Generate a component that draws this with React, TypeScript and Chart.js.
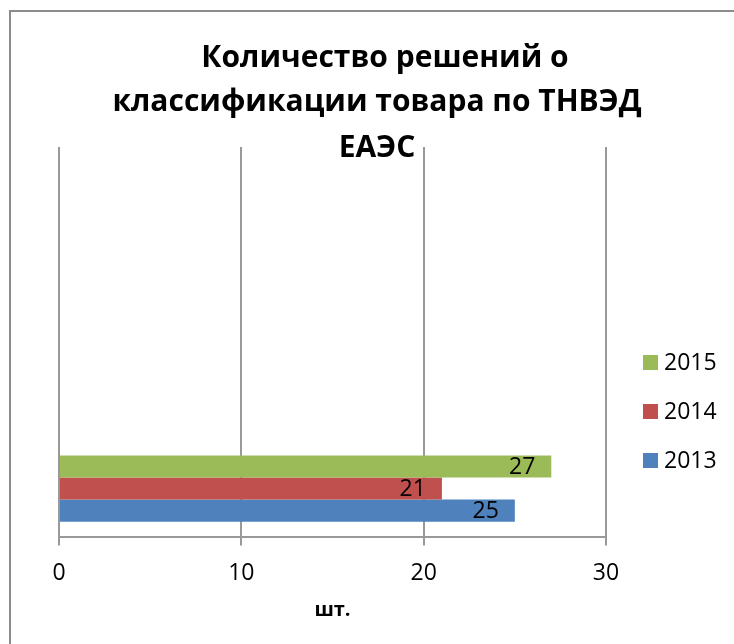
import React, { useEffect, useRef } from "react";
import { Chart, registerables } from "chart.js";

Chart.register(...registerables);

const categories = ["", "", "", ""];
const seriesNames = ["2015", "2014", "2013"];
const values2015 = [null, null, null, 27];
const values2014 = [null, null, null, 21];
const values2013 = [null, null, null, 25];
const xTicks = [0, 10, 20, 30];
const titleLines = ["Количество решений о", "классификации товара по ТНВЭД", "ЕАЭС"];
const axisTitle = "шт.";

const colors = ["#9BBB59", "#C0504D", "#4F81BD"];
const FONT = "'Open Sans', 'DejaVu Sans', sans-serif";

const overlayPlugin = {
  id: "overlay",
  afterDraw(chart: any) {
    const ctx = chart.ctx;
    ctx.save();
    // outer border
    ctx.strokeStyle = "#8c8c8c";
    ctx.lineWidth = 2;
    ctx.beginPath();
    ctx.moveTo(10, chart.height + 5);
    ctx.lineTo(10, 11);
    ctx.lineTo(chart.width + 5, 11);
    ctx.stroke();

    // title
    ctx.fillStyle = "#000";
    ctx.font = `bold 30px ${FONT}`;
    ctx.textAlign = "center";
    ctx.textBaseline = "alphabetic";
    const centers = [385, 377, 377];
    const baselines = [67, 111, 157];
    titleLines.forEach((t, i) => ctx.fillText(t, centers[i], baselines[i]));

    // axis title
    const area = chart.chartArea;
    ctx.font = `bold 20px ${FONT}`;
    ctx.textBaseline = "middle";
    ctx.fillText(axisTitle, (area.left + area.right) / 2, 610);

    // data labels
    ctx.font = `23px ${FONT}`;
    ctx.textAlign = "right";
    ctx.textBaseline = "middle";
    chart.data.datasets.forEach((ds: any, di: number) => {
      const meta = chart.getDatasetMeta(di);
      meta.data.forEach((el: any, i: number) => {
        const v = ds.data[i];
        if (v == null) return;
        ctx.fillText(String(v), el.x - 16, el.y + 1);
      });
    });

    // legend
    ctx.textAlign = "left";
    ctx.font = `23px ${FONT}`;
    const legY = [362, 411, 460];
    seriesNames.forEach((n, i) => {
      ctx.fillStyle = colors[i];
      ctx.fillRect(643, legY[i] - 7, 15, 15);
      ctx.fillStyle = "#000";
      ctx.fillText(n, 664, legY[i] + 1);
    });
    ctx.restore();
  },
};

export default function App() {
  const ref = useRef<HTMLCanvasElement>(null);
  useEffect(() => {
    if (!ref.current) return;
    const chart = new Chart(ref.current, {
      type: "bar",
      data: {
        labels: categories,
        datasets: [
          { label: seriesNames[0], data: values2015, backgroundColor: colors[0] },
          { label: seriesNames[1], data: values2014, backgroundColor: colors[1] },
          { label: seriesNames[2], data: values2013, backgroundColor: colors[2] },
        ] as any,
      },
      options: {
        indexAxis: "y",
        animation: false,
        responsive: false,
        maintainAspectRatio: false,
        datasets: { bar: { barPercentage: 1, categoryPercentage: 0.677 } } as any,
        layout: { padding: { left: 59, right: 128, top: 147, bottom: 43 } },
        plugins: {
          legend: { display: false },
          title: { display: false },
          tooltip: { enabled: false },
        },
        scales: {
          x: {
            type: "linear",
            min: 0,
            max: 30,
            afterBuildTicks: (axis: any) => {
              axis.ticks = xTicks.map((v) => ({ value: v }));
            },
            grid: {
              color: "#999999",
              lineWidth: 2,
              tickLength: 8,
            },
            border: { display: true, color: "#999999", width: 2 },
            ticks: {
              color: "#000",
              font: { family: FONT, size: 23 },
              padding: 14,
            },
            title: { display: false },
          },
          y: { display: false },
        },
      },
      plugins: [overlayPlugin],
    });
    return () => chart.destroy();
  }, []);
  return (
    <div style={{ position: "absolute", left: 0, top: 0, width: 734, height: 644, background: "#fff" }}>
      <canvas ref={ref} width={734} height={644} style={{ display: "block" }} />
    </div>
  );
}
